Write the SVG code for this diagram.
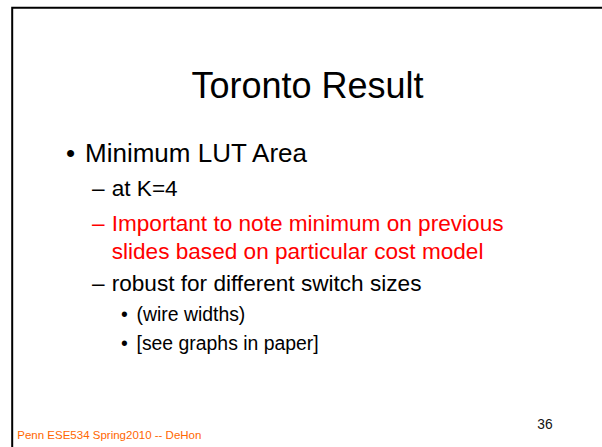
<svg xmlns="http://www.w3.org/2000/svg" width="602" height="447" viewBox="0 0 602 447">
  <style>
    text { font-family: "Liberation Sans", Arial, sans-serif; fill: #000; }
    .title { font-size: 36px; }
    .l1 { font-size: 26px; }
    .l2 { font-size: 22.6px; }
    .l3 { font-size: 19.4px; }
    .red { fill: #FF0000; }
    .footer { font-size: 11.5px; fill: #FF6600; }
    .num { font-size: 13.8px; fill: #111; }
    .frame { fill: none; stroke: #000; stroke-width: 2; }
  </style>
  <rect width="602" height="447" fill="#fff"/>

  <!-- slide frame: top and left edges -->
  <path class="frame" d="M602 7.7 H12.2 V447"/>

  <g id="title">
    <text class="title" x="307.5" y="98" text-anchor="middle">Toronto Result</text>
  </g>

  <g id="body">
    <text class="l1" x="66" y="162">•</text>
    <text class="l1" x="85" y="162">Minimum LUT Area</text>

    <text class="l2" x="92" y="195.5">–</text>
    <text class="l2" x="111.7" y="195.5">at K=4</text>

    <text class="l2 red" x="92" y="231">–</text>
    <text class="l2 red" x="111.7" y="231">Important to note minimum on previous</text>
    <text class="l2 red" x="111.7" y="258.5">slides based on particular cost model</text>

    <text class="l2" x="92" y="291">–</text>
    <text class="l2" x="111.7" y="291">robust for different switch sizes</text>

    <text class="l3" x="121" y="321">•</text>
    <text class="l3" x="136.5" y="321">(wire widths)</text>
    <text class="l3" x="121" y="350">•</text>
    <text class="l3" x="136.5" y="350">[see graphs in paper]</text>
  </g>

  <g id="footer">
    <text class="footer" x="17.3" y="439.3">Penn ESE534 Spring2010 -- DeHon</text>
    <text class="num" x="537.3" y="429">36</text>
  </g>
</svg>
